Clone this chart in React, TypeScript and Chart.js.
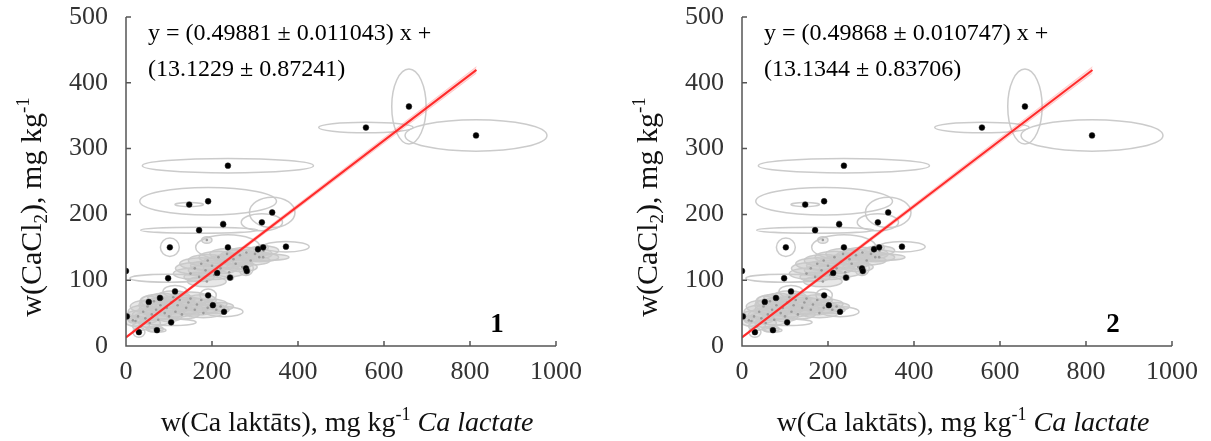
import React, { useEffect, useRef } from "react";
import { Chart, registerables } from "chart.js";

Chart.register(...registerables);

// Axis ticks
const xTicks = [0, 200, 400, 600, 800, 1000];
const yTicks = [0, 100, 200, 300, 400, 500];

// Individual samples (black) with error-ellipse half axes
const ptX = [814, 658, 558, 237, 191, 147, 340, 316, 226, 170, 102, 237, 307, 319, 372, 279, 242, 212, 98, 114, 191, 53, 202, 228, 105, 30, 72, 2, 0, 79, 281];
const ptY = [320, 364, 332, 274, 220, 215, 203, 188, 185, 176, 150, 150, 147, 150, 151, 118, 104, 111, 103, 83, 77, 67, 62, 52, 36, 21, 24, 45, 114, 73, 114];
const ptRx = [165, 40, 110, 199, 159, 33, 53, 48, 5, 136, 22, 75, 10, 12, 54, 17, 8, 6, 89, 28, 19, 21, 8, 44, 58, 14, 21, 4, 4, 6, 8];
const ptRy = [24, 57, 8, 11, 21, 3, 23, 13, 5, 4.5, 14, 19, 4, 4, 8, 11, 4, 4, 6, 9, 9.5, 9, 4, 7.5, 5, 7.6, 3, 3, 2, 4, 6];

// Dense groups of samples (grey) with error-ellipse half axes
const clX = [22, 28, 35, 40, 45, 50, 55, 60, 65, 70, 75, 80, 85, 90, 95, 100, 105, 110, 115, 120, 125, 130, 140, 145, 150, 160, 165, 175, 180, 190, 200, 210, 220, 16, 67,
  150, 160, 170, 175, 185, 190, 200, 205, 215, 220, 230, 235, 240, 250, 255, 265, 270, 280, 290, 300, 310, 320, 188, 188, 319];
const clY = [38, 45, 30, 52, 42, 60, 35, 48, 68, 55, 40, 62, 72, 50, 58, 45, 66, 74, 52, 62, 70, 48, 58, 66, 72, 55, 63, 70, 50, 58, 64, 55, 60, 39, 26,
  110, 118, 105, 125, 115, 130, 122, 108, 135, 118, 128, 140, 112, 132, 125, 138, 120, 142, 130, 140, 135, 145, 161, 98, 135];
const clRx = [25, 30, 20, 35, 30, 40, 25, 45, 30, 40, 35, 50, 35, 45, 40, 30, 55, 40, 45, 50, 35, 40, 55, 40, 45, 50, 40, 35, 45, 40, 35, 30, 30, 10, 20,
  40, 45, 35, 50, 40, 45, 50, 35, 45, 40, 50, 40, 35, 45, 40, 45, 35, 40, 45, 40, 45, 35, 12, 45, 60];
const clRy = [8, 9, 6, 10, 8, 10, 7, 9, 10, 9, 8, 10, 8, 9, 10, 8, 9, 10, 8, 9, 8, 7, 9, 8, 10, 8, 9, 8, 7, 8, 7, 6, 6, 4, 4,
  8, 9, 7, 9, 8, 9, 8, 7, 9, 8, 9, 8, 7, 9, 8, 8, 7, 8, 7, 8, 7, 7, 5, 8, 5];

// Fits for the two panels
const panelLabels = ["1", "2"];
const slopes = [0.49881, 0.49868];
const slopeErrs = ["0.011043", "0.010747"];
const intercepts = [13.1229, 13.1344];
const interceptErrs = ["0.87241", "0.83706"];
const fitX = [0, 815];
// half width of the confidence band at each end of the fit line
const bandHalf = [1.5, 5];

const SERIF = "'Liberation Serif', 'Times New Roman', serif";
const W = [606, 595];
const LEFT = [0, 616];
const PAD_RIGHT = [50, 38];
// the canvas starts above the page top so the plot area begins at y = 16
const SHIFT = 14;
const H = 441 + SHIFT;

type Seg = { t: string; f: string; dy?: number };

function drawRuns(ctx: CanvasRenderingContext2D, segs: Seg[], x: number, y: number, align: "left" | "center") {
  let w = 0;
  for (const s of segs) {
    ctx.font = s.f;
    w += ctx.measureText(s.t).width;
  }
  let cx = align === "center" ? x - w / 2 : x;
  ctx.textAlign = "left";
  ctx.textBaseline = "alphabetic";
  for (const s of segs) {
    ctx.font = s.f;
    ctx.fillText(s.t, cx, y + (s.dy || 0));
    cx += ctx.measureText(s.t).width;
  }
}

function ellipse(ctx: CanvasRenderingContext2D, chart: any, x: number, y: number, rx: number, ry: number) {
  const sx = chart.scales.x;
  const sy = chart.scales.y;
  const cx = sx.getPixelForValue(x);
  const cy = sy.getPixelForValue(y);
  const rpx = Math.abs(sx.getPixelForValue(x + rx) - cx);
  const rpy = Math.abs(sy.getPixelForValue(y + ry) - cy);
  ctx.beginPath();
  ctx.ellipse(cx, cy, Math.max(rpx, 1), Math.max(rpy, 1), 0, 0, Math.PI * 2);
}

const ellipsePlugin = {
  id: "errorEllipses",
  beforeDatasetsDraw(chart: any) {
    const { ctx, chartArea: a } = chart;
    ctx.save();
    ctx.beginPath();
    ctx.rect(a.left, a.top, a.right - a.left, a.bottom - a.top);
    ctx.clip();
    ctx.fillStyle = "rgba(205,205,205,0.45)";
    for (let i = 0; i < clX.length; i++) {
      ellipse(ctx, chart, clX[i], clY[i], clRx[i], clRy[i]);
      ctx.fill();
    }
    ctx.strokeStyle = "rgba(200,200,200,0.95)";
    ctx.lineWidth = 1.5;
    for (let i = 0; i < clX.length; i++) {
      ellipse(ctx, chart, clX[i], clY[i], clRx[i], clRy[i]);
      ctx.stroke();
    }
    for (let i = 0; i < ptX.length; i++) {
      ellipse(ctx, chart, ptX[i], ptY[i], ptRx[i], ptRy[i]);
      ctx.stroke();
    }
    ctx.restore();
  },
};

const axesPlugin = {
  id: "axesFrame",
  afterDraw(chart: any) {
    const { ctx, chartArea: a } = chart;
    const sx = chart.scales.x;
    const sy = chart.scales.y;
    ctx.save();
    ctx.strokeStyle = "#555";
    ctx.lineWidth = 1.5;
    ctx.beginPath();
    ctx.moveTo(a.left, a.top);
    ctx.lineTo(a.left, a.bottom);
    ctx.lineTo(a.right, a.bottom);
    for (const v of xTicks) {
      const px = sx.getPixelForValue(v);
      ctx.moveTo(px, a.bottom);
      ctx.lineTo(px, a.bottom - 5);
    }
    for (const v of yTicks) {
      const py = sy.getPixelForValue(v);
      ctx.moveTo(a.left, py);
      ctx.lineTo(a.left + 5, py);
    }
    ctx.stroke();
    ctx.restore();
  },
};

function textPlugin(idx: number) {
  return {
    id: "panelText",
    afterDraw(chart: any) {
      const { ctx, chartArea: a } = chart;
      ctx.save();
      ctx.fillStyle = "#111";
      const f30 = `30px ${SERIF}`;
      const f19 = `19px ${SERIF}`;
      const f28 = `28px ${SERIF}`;
      const f18 = `18px ${SERIF}`;
      // y axis title
      ctx.translate(41, 207 + SHIFT);
      ctx.rotate(-Math.PI / 2);
      drawRuns(ctx, [
        { t: "w(CaCl", f: f30 },
        { t: "2", f: f19, dy: 6 },
        { t: "), mg kg", f: f30 },
        { t: "-1", f: f19, dy: -12 },
      ], 0, 0, "center");
      ctx.setTransform(1, 0, 0, 1, 0, 0);
      // x axis title
      drawRuns(ctx, [
        { t: "w(Ca laktāts), mg kg", f: f28 },
        { t: "-1", f: f18, dy: -11 },
        { t: " Ca lactate", f: `italic 28px ${SERIF}` },
      ], (a.left + a.right) / 2 + 6, 431 + SHIFT, "center");
      // fit equation
      ctx.fillStyle = "#000";
      const fe = `24px ${SERIF}`;
      drawRuns(ctx, [{ t: `y = (${slopes[idx].toFixed(5)} ± ${slopeErrs[idx]}) x +`, f: fe }], a.left + 22, 40 + SHIFT, "left");
      drawRuns(ctx, [{ t: `(${intercepts[idx].toFixed(4)} ± ${interceptErrs[idx]})`, f: fe }], a.left + 22, 76 + SHIFT, "left");
      // panel number
      ctx.font = `bold 27px ${SERIF}`;
      ctx.textAlign = "center";
      ctx.textBaseline = "alphabetic";
      ctx.fillText(panelLabels[idx], a.left + 371, 332 + SHIFT);
      ctx.restore();
    },
  };
}

function Panel({ idx }: { idx: number }) {
  const ref = useRef<HTMLCanvasElement | null>(null);
  useEffect(() => {
    if (!ref.current) return;
    const a = slopes[idx];
    const b = intercepts[idx];
    const fitY = fitX.map((x) => a * x + b);
    const bandLo = fitY.map((y, i) => y - bandHalf[i]);
    const bandHi = fitY.map((y, i) => y + bandHalf[i]);
    const tickFont = { family: SERIF, size: 26, lineHeight: 1 };
    const chart = new Chart(ref.current, {
      type: "scatter",
      data: {
        datasets: [
          {
            type: "line",
            data: fitX.map((x, i) => ({ x, y: fitY[i] })),
            borderColor: "#ff2b2b",
            borderWidth: 2,
            pointRadius: 0,
            fill: false,
            order: 0,
          },
          {
            type: "line",
            data: fitX.map((x, i) => ({ x, y: bandHi[i] })),
            borderColor: "rgba(255,120,120,0.25)",
            borderWidth: 1,
            backgroundColor: "rgba(255,90,90,0.22)",
            pointRadius: 0,
            fill: "+1",
            order: 1,
          },
          {
            type: "line",
            data: fitX.map((x, i) => ({ x, y: bandLo[i] })),
            borderColor: "rgba(255,120,120,0.25)",
            borderWidth: 1,
            pointRadius: 0,
            fill: false,
            order: 2,
          },
          {
            data: ptX.map((x, i) => ({ x, y: ptY[i] })),
            backgroundColor: "#000",
            borderColor: "#222",
            borderWidth: 0.5,
            pointRadius: 2.9,
            order: 3,
          },
          {
            data: clX.map((x, i) => ({ x, y: clY[i] })),
            backgroundColor: "#9a9a9a",
            borderColor: "#9a9a9a",
            borderWidth: 0,
            pointRadius: 1.3,
            order: 4,
          },
        ],
      },
      options: {
        animation: false,
        responsive: false,
        devicePixelRatio: 1,
        layout: { padding: { left: 0, right: PAD_RIGHT[idx], top: 3, bottom: 0 } },
        plugins: { legend: { display: false }, tooltip: { enabled: false } },
        scales: {
          x: {
            type: "linear",
            min: 0,
            max: 1000,
            afterBuildTicks: (s: any) => {
              s.ticks = xTicks.map((v) => ({ value: v }));
            },
            afterFit: (s: any) => {
              s.height = 95;
            },
            grid: { display: false, drawTicks: false },
            border: { display: false },
            ticks: {
              autoSkip: false,
              maxRotation: 0,
              padding: 13,
              color: "#333",
              font: tickFont,
              callback: (v: any) => String(v),
            },
          },
          y: {
            type: "linear",
            min: 0,
            max: 500,
            afterBuildTicks: (s: any) => {
              s.ticks = yTicks.map((v) => ({ value: v }));
            },
            afterFit: (s: any) => {
              s.width = 126;
            },
            grid: { display: false, drawTicks: false },
            border: { display: false },
            ticks: {
              autoSkip: false,
              padding: 18,
              color: "#333",
              font: tickFont,
              callback: (v: any) => String(v),
            },
          },
        },
      },
      plugins: [ellipsePlugin, axesPlugin, textPlugin(idx)],
    } as any);
    return () => chart.destroy();
  }, [idx]);
  return (
    <div style={{ position: "absolute", left: LEFT[idx], top: -SHIFT, width: W[idx], height: H }}>
      <canvas ref={ref} width={W[idx]} height={H} style={{ display: "block" }} />
    </div>
  );
}

export default function App() {
  return (
    <div style={{ position: "fixed", left: 0, top: 0, width: 1211, height: 441, background: "#fff", overflow: "hidden" }}>
      <Panel idx={0} />
      <Panel idx={1} />
    </div>
  );
}
